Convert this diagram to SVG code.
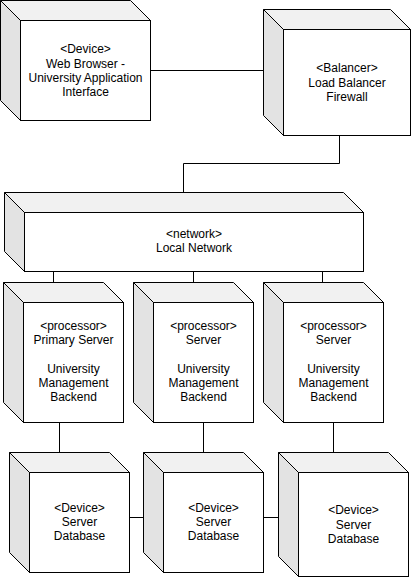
<svg xmlns="http://www.w3.org/2000/svg" width="414" height="578" viewBox="0 0 414 578">
<style>
.top{fill:#f1f1f1;stroke:#000;stroke-width:1;stroke-linejoin:round}
.side{fill:#e3e3e3;stroke:#000;stroke-width:1;stroke-linejoin:round}
.front{fill:#fff;stroke:#000;stroke-width:1}
.t{font-family:"Liberation Sans",Arial,sans-serif;font-size:12px;fill:#000;text-anchor:middle}
.c{fill:none;stroke:#000;stroke-width:1}
</style>
<rect width="414" height="578" fill="#fff"/>
<g id="connectors">
<path class="c" d="M150.5 70.5 H263.5"/>
<path class="c" d="M339.5 135.5 V163.5 H183.5 V192.5"/>
<path class="c" d="M53.5 271.5 V282.5"/>
<path class="c" d="M193.5 271.5 V282.5"/>
<path class="c" d="M322.5 271.5 V282.5"/>
<path class="c" d="M59.5 422.5 V452.5"/>
<path class="c" d="M203.5 422.5 V452.5"/>
<path class="c" d="M333.5 422.5 V452.5"/>
<path class="c" d="M129.5 517.5 H143.5"/>
<path class="c" d="M263.5 517.5 H278.5"/>
</g>
<g id="webbrowser">
<path class="top" d="M0.5 0.5 H130.5 L150.5 20.5 H20.5 Z"/>
<path class="side" d="M0.5 0.5 L20.5 20.5 V120.5 L0.5 100.5 Z"/>
<rect class="front" x="20.5" y="20.5" width="130" height="100"/>
<text class="t" x="85.5" y="53">&lt;Device&gt;</text>
<text class="t" x="85.5" y="67.5">Web Browser -</text>
<text class="t" x="85.5" y="81.5">University Application</text>
<text class="t" x="85.5" y="95.5">Interface</text>
</g>
<g id="balancer">
<path class="top" d="M263.5 9.5 H390.5 L410.5 29.5 H283.5 Z"/>
<path class="side" d="M263.5 9.5 L283.5 29.5 V135.5 L263.5 115.5 Z"/>
<rect class="front" x="283.5" y="29.5" width="127" height="106"/>
<text class="t" x="347" y="72">&lt;Balancer&gt;</text>
<text class="t" x="347" y="86.5">Load Balancer</text>
<text class="t" x="347" y="101">Firewall</text>
</g>
<g id="network">
<path class="top" d="M4.5 192.5 H343.5 L363.5 212.5 H24.5 Z"/>
<path class="side" d="M4.5 192.5 L24.5 212.5 V271.5 L4.5 251.5 Z"/>
<rect class="front" x="24.5" y="212.5" width="339" height="59"/>
<text class="t" x="194" y="238">&lt;network&gt;</text>
<text class="t" x="194" y="252">Local Network</text>
</g>
<g id="processor1">
<path class="top" d="M3.5 282.5 H103.5 L123.5 302.5 H23.5 Z"/>
<path class="side" d="M3.5 282.5 L23.5 302.5 V422.5 L3.5 402.5 Z"/>
<rect class="front" x="23.5" y="302.5" width="100" height="120"/>
<text class="t" x="73.5" y="329.5">&lt;processor&gt;</text>
<text class="t" x="73.5" y="343.5">Primary Server</text>
<text class="t" x="73.5" y="372.5">University</text>
<text class="t" x="73.5" y="386.5">Management</text>
<text class="t" x="73.5" y="401">Backend</text>
</g>
<g id="processor2">
<path class="top" d="M133.5 282.5 H233.5 L253.5 302.5 H153.5 Z"/>
<path class="side" d="M133.5 282.5 L153.5 302.5 V422.5 L133.5 402.5 Z"/>
<rect class="front" x="153.5" y="302.5" width="100" height="120"/>
<text class="t" x="203.5" y="329.5">&lt;processor&gt;</text>
<text class="t" x="203.5" y="343.5">Server</text>
<text class="t" x="203.5" y="372.5">University</text>
<text class="t" x="203.5" y="386.5">Management</text>
<text class="t" x="203.5" y="401">Backend</text>
</g>
<g id="processor3">
<path class="top" d="M263.5 282.5 H363.5 L383.5 302.5 H283.5 Z"/>
<path class="side" d="M263.5 282.5 L283.5 302.5 V422.5 L263.5 402.5 Z"/>
<rect class="front" x="283.5" y="302.5" width="100" height="120"/>
<text class="t" x="333.5" y="329.5">&lt;processor&gt;</text>
<text class="t" x="333.5" y="343.5">Server</text>
<text class="t" x="333.5" y="372.5">University</text>
<text class="t" x="333.5" y="386.5">Management</text>
<text class="t" x="333.5" y="401">Backend</text>
</g>
<g id="database1">
<path class="top" d="M9.5 452.5 H109.5 L129.5 472.5 H29.5 Z"/>
<path class="side" d="M9.5 452.5 L29.5 472.5 V572.5 L9.5 552.5 Z"/>
<rect class="front" x="29.5" y="472.5" width="100" height="100"/>
<text class="t" x="79.5" y="511.5">&lt;Device&gt;</text>
<text class="t" x="79.5" y="526">Server</text>
<text class="t" x="79.5" y="540">Database</text>
</g>
<g id="database2">
<path class="top" d="M143.5 452.5 H243.5 L263.5 472.5 H163.5 Z"/>
<path class="side" d="M143.5 452.5 L163.5 472.5 V572.5 L143.5 552.5 Z"/>
<rect class="front" x="163.5" y="472.5" width="100" height="100"/>
<text class="t" x="213.5" y="511.5">&lt;Device&gt;</text>
<text class="t" x="213.5" y="526">Server</text>
<text class="t" x="213.5" y="540">Database</text>
</g>
<g id="database3">
<path class="top" d="M278.5 452.5 H388.5 L408.5 472.5 H298.5 Z"/>
<path class="side" d="M278.5 452.5 L298.5 472.5 V576.5 L278.5 556.5 Z"/>
<rect class="front" x="298.5" y="472.5" width="110" height="104"/>
<text class="t" x="353.5" y="514">&lt;Device&gt;</text>
<text class="t" x="353.5" y="528.5">Server</text>
<text class="t" x="353.5" y="542.5">Database</text>
</g>
</svg>
